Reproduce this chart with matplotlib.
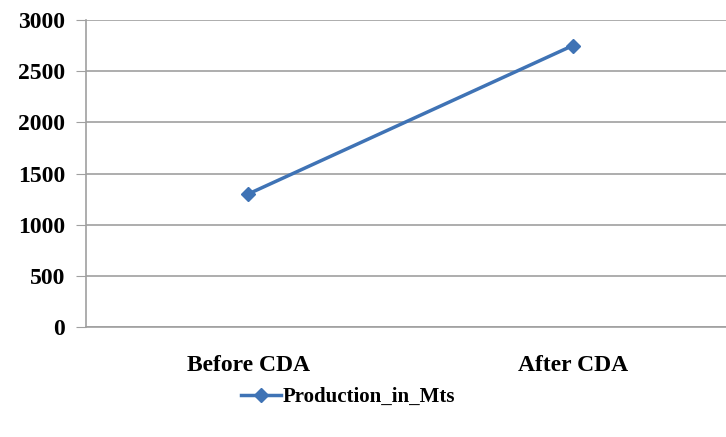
import numpy as np
import matplotlib.pyplot as plt

categories = ["Before CDA", "After CDA"]
production = [1300, 2750]
yticks = [0, 500, 1000, 1500, 2000, 2500, 3000]

plt.rcParams['font.family'] = ['Liberation Serif', 'DejaVu Serif']
plt.rcParams['font.weight'] = 'bold'

fig = plt.figure(figsize=(7.26, 4.37), dpi=100)
# plot area runs past the right edge, like the cropped original
ax = fig.add_axes([86/726, 1 - 327/437, (735-86)/726, (327-20)/437])

x = np.arange(len(categories))
ax.plot(x, production, color="#3f73b5", lw=2.5, marker="D", ms=7,
        label="Production_in_Mts")

ax.set_xlim(-0.5, 1.5)
ax.set_ylim(0, 3000)
ax.set_yticks(yticks)
ax.set_xticks(x)
ax.set_xticklabels(categories, fontsize=17, fontweight="bold")
ax.tick_params(axis="x", length=0, pad=20)
ax.tick_params(axis="y", labelsize=17, length=7, color="#a0a0a0", pad=8)
ax.yaxis.grid(True, color="#a0a0a0", lw=1.2)
ax.set_axisbelow(True)
for s in ["top", "right"]:
    ax.spines[s].set_visible(False)
ax.spines["left"].set_color("#a0a0a0")
ax.spines["bottom"].set_color("#a0a0a0")
ax.spines["left"].set_linewidth(1.2)
ax.spines["bottom"].set_linewidth(1.2)

fig.legend(loc="center", bbox_to_anchor=(348/726, 1 - 397/437), frameon=False,
           prop={"size": 15, "weight": "bold"}, handlelength=1.9, handletextpad=0.1)

plt.savefig("out.png", dpi=100)
